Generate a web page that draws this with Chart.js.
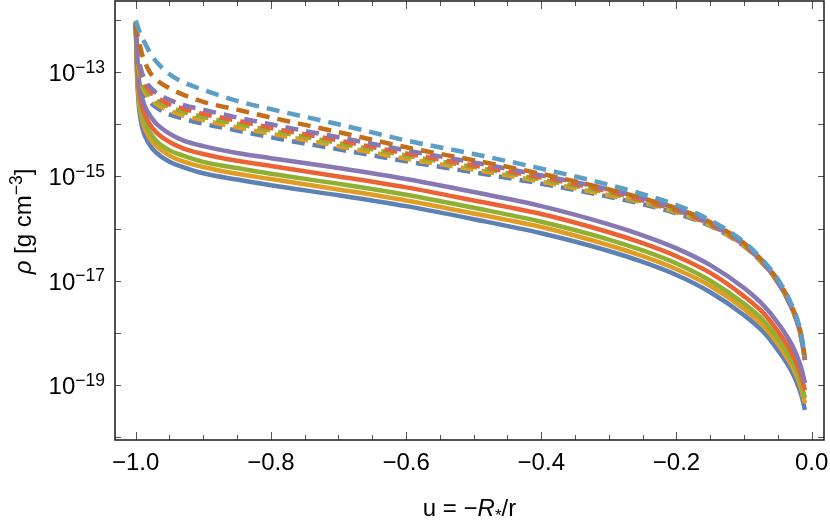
<!DOCTYPE html>
<html><head><meta charset="utf-8">
<script src="https://cdn.jsdelivr.net/npm/chart.js@4/dist/chart.umd.min.js"></script>
<style>html,body{margin:0;padding:0;background:#fff}canvas{display:block}</style>
</head><body>
<canvas id="c" width="830" height="522"></canvas>
<script>
// u = -R*/r sample positions (shared by all curves)
const uValues = [-1.0,-0.998,-0.995,-0.99,-0.98,-0.97,-0.95,-0.93,-0.9,-0.85,-0.8,-0.7,-0.6,-0.5,-0.4,-0.3,-0.25,-0.2,-0.15,-0.1,-0.07,-0.05,-0.03,-0.02,-0.015,-0.01];

// log10 of density rho [g cm^-3]
const logRhoSolidBlue   = [-12.05,-13.06,-13.69,-14.08,-14.38,-14.54,-14.72,-14.82,-14.94,-15.06,-15.17,-15.36,-15.57,-15.82,-16.09,-16.43,-16.64,-16.89,-17.22,-17.66,-18.00,-18.33,-18.73,-19.02,-19.21,-19.48];
const logRhoSolidOrange = [-12.05,-12.97,-13.56,-13.94,-14.25,-14.41,-14.60,-14.71,-14.82,-14.95,-15.05,-15.25,-15.46,-15.71,-15.97,-16.32,-16.53,-16.78,-17.10,-17.54,-17.89,-18.21,-18.62,-18.90,-19.10,-19.35];
const logRhoSolidGreen  = [-12.05,-12.87,-13.44,-13.83,-14.13,-14.31,-14.50,-14.60,-14.72,-14.84,-14.95,-15.14,-15.35,-15.60,-15.87,-16.21,-16.42,-16.67,-17.00,-17.44,-17.78,-18.11,-18.51,-18.80,-18.99,-19.25];
const logRhoSolidRed    = [-12.05,-12.75,-13.31,-13.67,-13.98,-14.15,-14.34,-14.46,-14.57,-14.70,-14.80,-15.00,-15.21,-15.46,-15.72,-16.07,-16.28,-16.53,-16.85,-17.30,-17.64,-17.97,-18.37,-18.66,-18.85,-19.10];
const logRhoSolidPurple = [-12.05,-12.64,-13.16,-13.52,-13.81,-13.98,-14.18,-14.31,-14.42,-14.55,-14.65,-14.84,-15.05,-15.30,-15.57,-15.92,-16.13,-16.38,-16.70,-17.14,-17.49,-17.81,-18.21,-18.50,-18.69,-18.96];

const logRhoDashedBlue       = [-12.05,-12.68,-13.06,-13.35,-13.56,-13.67,-13.81,-13.89,-13.99,-14.12,-14.25,-14.48,-14.71,-14.92,-15.14,-15.39,-15.53,-15.71,-15.95,-16.34,-16.70,-17.03,-17.51,-17.85,-18.12,-18.52];
const logRhoDashedOrange     = [-12.05,-12.62,-13.00,-13.29,-13.49,-13.61,-13.74,-13.83,-13.92,-14.06,-14.18,-14.42,-14.66,-14.87,-15.10,-15.36,-15.50,-15.69,-15.94,-16.34,-16.70,-17.03,-17.51,-17.85,-18.12,-18.52];
const logRhoDashedGreen      = [-12.05,-12.58,-12.93,-13.21,-13.43,-13.54,-13.67,-13.76,-13.86,-13.99,-14.12,-14.36,-14.60,-14.82,-15.06,-15.32,-15.48,-15.67,-15.93,-16.32,-16.70,-17.03,-17.51,-17.85,-18.12,-18.52];
const logRhoDashedRed        = [-12.05,-12.54,-12.85,-13.14,-13.35,-13.47,-13.62,-13.70,-13.80,-13.93,-14.07,-14.31,-14.56,-14.79,-15.02,-15.29,-15.46,-15.65,-15.92,-16.32,-16.69,-17.03,-17.51,-17.85,-18.12,-18.52];
const logRhoDashedPurple     = [-12.05,-12.49,-12.77,-13.04,-13.27,-13.39,-13.53,-13.63,-13.72,-13.87,-14.00,-14.25,-14.50,-14.73,-14.98,-15.25,-15.42,-15.62,-15.90,-16.30,-16.68,-17.03,-17.51,-17.85,-18.12,-18.52];
const logRhoDashedDarkOrange = [-12.07,-12.24,-12.43,-12.68,-12.98,-13.14,-13.31,-13.43,-13.57,-13.72,-13.87,-14.15,-14.44,-14.69,-14.95,-15.25,-15.42,-15.61,-15.88,-16.28,-16.66,-16.99,-17.47,-17.81,-18.08,-18.48];
const logRhoDashedLightBlue  = [-12.01,-12.08,-12.20,-12.35,-12.60,-12.79,-13.04,-13.19,-13.34,-13.55,-13.71,-14.00,-14.31,-14.57,-14.85,-15.16,-15.34,-15.55,-15.84,-16.26,-16.64,-16.97,-17.45,-17.79,-18.06,-18.46];

// axis ticks
const xTickValues = [-1.0,-0.8,-0.6,-0.4,-0.2,0.0];
const xMinorTickValues = [-0.95,-0.9,-0.85,-0.75,-0.7,-0.65,-0.55,-0.5,-0.45,-0.35,-0.3,-0.25,-0.15,-0.1,-0.05];
const yTickExponents = [-20,-19,-18,-17,-16,-15,-14,-13,-12];
const yLabelExponents = [-19,-17,-15,-13];

const C = {blue:'#5E81B5',orange:'#E19C24',green:'#8FB032',red:'#EB6235',purple:'#8778B3',darkOrange:'#C56E1A',lightBlue:'#5D9EC7'};

function mk(logs, color, dashed){
  return {
    data: uValues.map((u,i)=>({x:u, y:Math.pow(10, logs[i])})),
    borderColor: color, borderWidth: 4.5, borderDash: dashed?[13,8]:[],
    borderCapStyle:'butt', pointRadius:0, fill:false, cubicInterpolationMode:'monotone'
  };
}
// Drawing order in Chart.js: index 0 on top
const datasets = [
  mk(logRhoDashedLightBlue, C.lightBlue, true),
  mk(logRhoDashedDarkOrange, C.darkOrange, true),
  mk(logRhoDashedPurple, C.purple, true),
  mk(logRhoDashedRed, C.red, true),
  mk(logRhoDashedGreen, C.green, true),
  mk(logRhoDashedOrange, C.orange, true),
  mk(logRhoDashedBlue, C.blue, true),
  mk(logRhoSolidPurple, C.purple, false),
  mk(logRhoSolidRed, C.red, false),
  mk(logRhoSolidGreen, C.green, false),
  mk(logRhoSolidOrange, C.orange, false),
  mk(logRhoSolidBlue, C.blue, false)
];

const FONT = '"Liberation Sans", Arial, sans-serif';

function drawRich(ctx, parts, x, y, align){
  let w = 0;
  for (const p of parts){ ctx.font = (p.style||'') + ' ' + p.size + 'px ' + FONT; p.w = ctx.measureText(p.t).width; w += p.w; }
  let cx = align==='right' ? x - w : align==='center' ? x - w/2 : x;
  ctx.textAlign = 'left'; ctx.textBaseline = 'alphabetic';
  for (const p of parts){ ctx.font = (p.style||'') + ' ' + p.size + 'px ' + FONT; ctx.fillText(p.t, cx, y + (p.dy||0)); cx += p.w; }
}

const framePlugin = {
  id:'frame',
  afterDatasetsDraw(chart){
    const {ctx, chartArea:a, scales:{x,y}} = chart;
    ctx.save();
    ctx.strokeStyle = '#555'; ctx.lineWidth = 1;
    ctx.beginPath();
    for (const v of xTickValues){
      const px = Math.round(x.getPixelForValue(v)) + 0.5;
      ctx.moveTo(px, a.bottom); ctx.lineTo(px, a.bottom - 8);
      ctx.moveTo(px, a.top); ctx.lineTo(px, a.top + 8);
    }
    for (const v of xMinorTickValues){
      const px = Math.round(x.getPixelForValue(v)) + 0.5;
      ctx.moveTo(px, a.bottom); ctx.lineTo(px, a.bottom - 5);
      ctx.moveTo(px, a.top); ctx.lineTo(px, a.top + 5);
    }
    for (const e of yTickExponents){
      const py = Math.round(y.getPixelForValue(Math.pow(10,e))) + 0.5;
      ctx.moveTo(a.left, py); ctx.lineTo(a.left + 6, py);
      ctx.moveTo(a.right, py); ctx.lineTo(a.right - 6, py);
    }
    ctx.stroke();
    ctx.strokeStyle = '#1a1a1a'; ctx.lineWidth = 1.5;
    ctx.strokeRect(a.left, a.top, a.right - a.left, a.bottom - a.top);

    ctx.fillStyle = '#000';
    for (const e of yLabelExponents){
      const py = y.getPixelForValue(Math.pow(10,e));
      drawRich(ctx, [
        {t:'10', size:24},
        {t:'\u2212' + Math.abs(e), size:17.5, dy:-8.5}
      ], a.left - 10, py + 9, 'right');
    }
    // x axis title
    drawRich(ctx, [
      {t:'u = \u2212', size:24},
      {t:'R', size:24, style:'italic'},
      {t:'*', size:17, dy:5},
      {t:'/r', size:24}
    ], (a.left + a.right)/2, 516, 'center');
    // y axis title (rotated)
    ctx.save();
    ctx.translate(23, (a.top + a.bottom)/2 + 1);
    ctx.rotate(-Math.PI/2);
    drawRich(ctx, [
      {t:'\u03C1', size:24, style:'italic'},
      {t:' [g cm', size:24},
      {t:'\u22123', size:17.5, dy:-9.5},
      {t:']', size:24}
    ], 0, 8, 'center');
    ctx.restore();
    ctx.restore();
  }
};

new Chart(document.getElementById('c'), {
  type:'line',
  data:{datasets},
  options:{
    responsive:false, animation:false, devicePixelRatio:1,
    layout:{padding:{left:0,right:6,top:1,bottom:0}},
    plugins:{legend:{display:false}, tooltip:{enabled:false}},
    scales:{
      x:{
        type:'linear', min:-1.0306, max:0.0182,
        grid:{display:false, drawTicks:false}, border:{display:false},
        afterBuildTicks:s=>{ s.ticks = xTickValues.map(v=>({value:v})); },
        afterFit:s=>{ s.height = 82; s.paddingLeft = 0; s.paddingRight = 0; },
        ticks:{ color:'#000', padding:9, maxRotation:0, autoSkip:false,
          font:{family:'"Liberation Sans", Arial, sans-serif', size:24},
          callback:v=>(v<0?'\u2212':'') + Math.abs(v).toFixed(1) }
      },
      y:{
        type:'logarithmic', min:Math.pow(10,-20.054), max:Math.pow(10,-11.636),
        grid:{display:false, drawTicks:false}, border:{display:false},
        afterBuildTicks:s=>{ s.ticks = yTickExponents.map(e=>({value:Math.pow(10,e)})); },
        afterFit:s=>{ s.width = 115; s.paddingTop = 0; s.paddingBottom = 0; },
        ticks:{display:false}
      }
    }
  },
  plugins:[framePlugin]
});
</script>
</body></html>
